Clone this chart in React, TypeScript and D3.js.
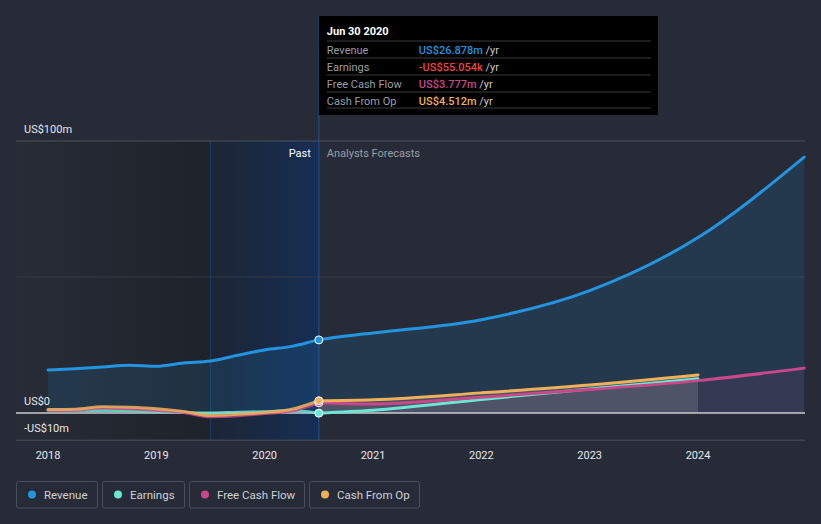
import * as React from 'react'
import { useEffect, useRef } from 'react'
import * as d3 from 'd3'

const pastDates = [2018.0, 2018.25, 2018.5, 2018.75, 2019.0, 2019.25, 2019.5, 2019.75, 2020.0, 2020.25, 2020.5]
const revenuePast = [15.8, 16.3, 16.9, 17.6, 17.2, 18.4, 19.1, 21.2, 23.2, 24.5, 26.878]
const earningsPast = [1.0, 1.0, 0.9, 0.8, 0.6, 0.2, 0.0, 0.3, 0.5, 0.9, -0.055]
const fcfPast = [1.0, 1.1, 1.8, 1.6, 1.0, 0.2, -1.4, -1.0, -0.2, 0.8, 3.777]
const cfoPast = [1.3, 1.4, 2.3, 2.1, 1.6, 0.6, -0.9, -0.5, 0.2, 1.4, 4.512]

const revenueFcDates = [2020.5, 2021.0, 2022.0, 2023.0, 2024.0, 2024.98]
const revenueFc = [26.878, 29.4, 34.3, 45.0, 64.5, 94.1]
const fcDates = [2020.5, 2021.0, 2022.0, 2023.0, 2024.0]
const earningsFc = [-0.055, 1.0, 5.0, 8.8, 12.6]
const cfoFc = [4.512, 4.9, 7.4, 10.3, 14.0]
const fcfFcDates = [2020.5, 2021.0, 2022.0, 2023.0, 2024.0, 2024.98]
const fcfFc = [3.777, 3.3, 5.8, 8.6, 11.9, 16.5]

const xTicks = [2018, 2019, 2020, 2021, 2022, 2023, 2024]
const yTicks = [100, 0, -10]
const yTickLabels = ['US$100m', 'US$0', '-US$10m']

const seriesNames = ['Revenue', 'Earnings', 'Free Cash Flow', 'Cash From Op']
const seriesColors = ['#2394df', '#6ce5d3', '#c9488a', '#eeb05a']
const tipValues = ['US$26.878m', '-US$55.054k', 'US$3.777m', 'US$4.512m']
const tipColors = ['#2394df', '#f0443e', '#c9488a', '#eeb05a']

const W = 821
const H = 524

const App = () => {
  const chartRef = useRef<SVGSVGElement>(null)

  useEffect(() => {
    const svg = d3.select(chartRef.current)
    svg.selectAll('*').remove()

    const x = d3.scaleLinear().domain([2018, 2024]).range([48, 698])
    const y = d3.scaleLinear().domain([-10, 100]).range([440.2, 141])
    const left = 16, right = 805

    const defs = svg.append('defs')
    const g1 = defs.append('linearGradient').attr('id', 'pastDark')
    g1.append('stop').attr('offset', '0%').attr('stop-color', '#272c37')
    g1.append('stop').attr('offset', '100%').attr('stop-color', '#1e222a')
    const g2 = defs.append('linearGradient').attr('id', 'pastBlue')
    g2.append('stop').attr('offset', '0%').attr('stop-color', '#1c2535')
    g2.append('stop').attr('offset', '100%').attr('stop-color', '#162e54')

    svg.append('rect').attr('width', W).attr('height', H).attr('fill', '#262b37')

    // past shading
    svg.append('rect').attr('x', left).attr('y', y(100)).attr('width', x(2019.5) - left)
      .attr('height', y(-10) - y(100)).attr('fill', 'url(#pastDark)')
    svg.append('rect').attr('x', x(2019.5)).attr('y', y(100)).attr('width', x(2020.5) - x(2019.5))
      .attr('height', y(-10) - y(100)).attr('fill', 'url(#pastBlue)')
    svg.append('line').attr('x1', x(2019.5)).attr('x2', x(2019.5)).attr('y1', y(100)).attr('y2', y(-10))
      .attr('stroke', '#1f3a60').attr('stroke-width', 1)

    // grid
    svg.append('line').attr('x1', left).attr('x2', right).attr('y1', y(100)).attr('y2', y(100))
      .attr('stroke', '#4b505b')
    svg.append('line').attr('x1', left).attr('x2', right).attr('y1', y(50)).attr('y2', y(50))
      .attr('stroke', '#343a47')
    svg.append('line').attr('x1', left).attr('x2', right).attr('y1', y(-10)).attr('y2', y(-10))
      .attr('stroke', '#4b505b')

    const curve = d3.curveMonotoneX
    const toPts = (ds: number[], vs: number[]) => ds.map((d, i) => [d, vs[i]] as [number, number])
    const line = d3.line<[number, number]>().x(d => x(d[0])).y(d => y(d[1])).curve(curve)
    const area = d3.area<[number, number]>().x(d => x(d[0])).y0(y(0)).y1(d => y(d[1])).curve(curve)

    const revAll = toPts(pastDates, revenuePast).concat(toPts(revenueFcDates, revenueFc).slice(1))
    svg.append('path').attr('d', area(revAll)).attr('fill', '#2394df').attr('opacity', 0.14)

    // forecast areas for small series
    svg.append('path').attr('d', area(toPts(fcfFcDates, fcfFc))).attr('fill', '#c9488a').attr('opacity', 0.1)
    svg.append('path').attr('d', area(toPts(fcDates, cfoFc))).attr('fill', '#b8b8b8').attr('opacity', 0.2)

    // zero line
    svg.append('line').attr('x1', left).attr('x2', right).attr('y1', y(0)).attr('y2', y(0))
      .attr('stroke', '#c9cbd0').attr('stroke-width', 1.5)

    const drawLine = (pts: [number, number][], color: string, op = 1) => {
      svg.append('path').attr('d', line(pts)).attr('fill', 'none').attr('stroke', color)
        .attr('stroke-width', 3).attr('stroke-linecap', 'round').attr('opacity', op)
    }

    drawLine(toPts(pastDates, earningsPast), seriesColors[1], 0.85)
    drawLine(toPts(pastDates, fcfPast), seriesColors[2], 0.85)
    drawLine(toPts(pastDates, cfoPast), seriesColors[3], 0.85)
    drawLine(toPts(fcDates, earningsFc), seriesColors[1])
    drawLine(toPts(fcfFcDates, fcfFc), seriesColors[2])
    drawLine(toPts(fcDates, cfoFc), seriesColors[3])
    drawLine(revAll, seriesColors[0])

    // current date line
    svg.append('line').attr('x1', x(2020.5)).attr('x2', x(2020.5)).attr('y1', 16).attr('y2', y(-10))
      .attr('stroke', '#1f5391').attr('stroke-width', 1)

    // dots
    const dotVals = [revenuePast[10], earningsPast[10], fcfPast[10], cfoPast[10]]
    ;[2, 3, 1, 0].forEach(i => {
      svg.append('circle').attr('cx', x(2020.5)).attr('cy', y(dotVals[i])).attr('r', 4)
        .attr('fill', seriesColors[i]).attr('stroke', '#ffffff').attr('stroke-width', 1)
    })

    // axis labels
    svg.append('g').selectAll('text').data(xTicks).enter().append('text')
      .attr('x', d => x(d)).attr('y', 459).attr('text-anchor', 'middle')
      .attr('fill', '#e6e7ea').style('font-size', '11px').text(d => d)
    svg.append('g').selectAll('text').data(yTicks).enter().append('text')
      .attr('x', 24).attr('y', d => y(d) - 8).attr('fill', '#e6e7ea')
      .style('font-size', '11px').text((d, i) => yTickLabels[i])

    svg.append('text').attr('x', x(2020.5) - 8).attr('y', 157).attr('text-anchor', 'end')
      .attr('fill', '#ffffff').style('font-size', '11px').text('Past')
    svg.append('text').attr('x', x(2020.5) + 8).attr('y', 157)
      .attr('fill', '#9a9ea7').style('font-size', '11px').text('Analysts Forecasts')

    // tooltip
    const tip = svg.append('g').attr('transform', `translate(${x(2020.5)},16)`)
    tip.append('rect').attr('width', 339).attr('height', 99).attr('fill', '#000000')
    tip.append('text').attr('x', 8).attr('y', 18.5).attr('fill', '#ffffff')
      .style('font-size', '11px').style('font-weight', 'bold').text('Jun 30 2020')
    seriesNames.forEach((name, i) => {
      const ty = 25 + i * 17
      tip.append('line').attr('x1', 8).attr('x2', 332).attr('y1', ty).attr('y2', ty).attr('stroke', '#3a3a3a')
      tip.append('text').attr('x', 8).attr('y', ty + 12.5).attr('fill', '#9a9ea6')
        .style('font-size', '11px').text(name)
      const t = tip.append('text').attr('x', 100).attr('y', ty + 12.5).style('font-size', '11px')
      t.append('tspan').attr('fill', tipColors[i]).style('font-weight', 500).text(tipValues[i])
      t.append('tspan').attr('fill', '#c7c9cd').text(' /yr')
    })
    tip.append('line').attr('x1', 8).attr('x2', 332).attr('y1', 92).attr('y2', 92).attr('stroke', '#3a3a3a')

    // legend
    const widths = [81, 82, 115, 110]
    let lx = 16.5
    seriesNames.forEach((name, i) => {
      const lg = svg.append('g').attr('transform', `translate(${lx},481.5)`)
      lg.append('rect').attr('width', widths[i]).attr('height', 26.5).attr('rx', 2)
        .attr('fill', 'none').attr('stroke', '#4a4f5a')
      lg.append('circle').attr('cx', 15.5).attr('cy', 13).attr('r', 4).attr('fill', seriesColors[i])
      lg.append('text').attr('x', 27.5).attr('y', 17).attr('fill', '#cfd1d5')
        .style('font-size', '11.5px').text(name)
      lx += widths[i] + 5
    })
  }, [])

  return (
    <svg ref={chartRef} width={W} height={H}
      style={{ position: 'absolute', left: 0, top: 0, fontFamily: 'Roboto, sans-serif' }} />
  )
}

export default App
